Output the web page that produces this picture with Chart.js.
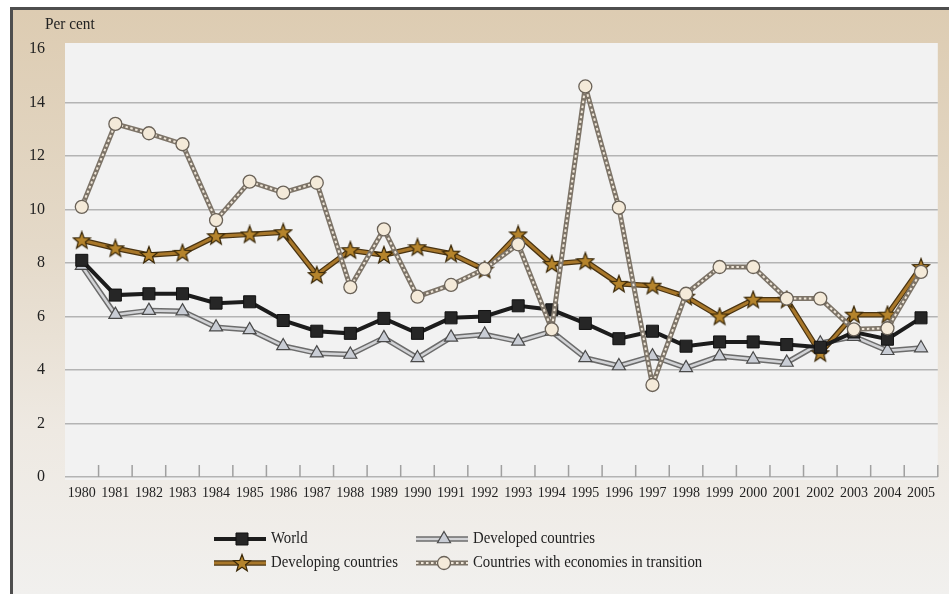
<!DOCTYPE html>
<html>
<head>
<meta charset="utf-8">
<script src="https://cdn.jsdelivr.net/npm/chart.js@4.4.1/dist/chart.umd.min.js"></script>
<style>
  html, body { margin: 0; padding: 0; background: #fff; }
  #frame {
    position: absolute; left: 10px; top: 7px; width: 939px; height: 587px;
    box-sizing: border-box;
    border-left: 3px solid #4e4e4e; border-top: 3px solid #4e4e4e;
    background: linear-gradient(to bottom, #ddccb2 0%, #e4d9c8 40%, #eee9e2 72%, #f1f0ee 100%);
  }
  #wrap { position: absolute; left: 0; top: 0; width: 949px; height: 594px; }
</style>
</head>
<body>
<div id="frame"></div>
<div id="wrap"><canvas id="myChart" width="949" height="594"></canvas></div>
<script>
const years = ["1980", "1981", "1982", "1983", "1984", "1985", "1986", "1987", "1988",
  "1989", "1990", "1991", "1992", "1993", "1994", "1995", "1996", "1997", "1998",
  "1999", "2000", "2001", "2002", "2003", "2004", "2005"];

const world = [8.1, 6.8, 6.85, 6.85, 6.5, 6.55, 5.85, 5.45, 5.37, 5.93, 5.37, 5.95, 6.0,
  6.4, 6.25, 5.74, 5.17, 5.45, 4.89, 5.05, 5.05, 4.95, 4.85, 5.42, 5.15, 5.95];
const developed = [7.9, 6.07, 6.22, 6.2, 5.6, 5.5, 4.9, 4.63, 4.58, 5.2, 4.45, 5.22, 5.33,
  5.07, 5.44, 4.45, 4.15, 4.52, 4.08, 4.52, 4.4, 4.28, 5.0, 5.25, 4.72, 4.82];
const developing = [8.85, 8.55, 8.3, 8.38, 9.0, 9.07, 9.15, 7.55, 8.48, 8.3, 8.59, 8.35, 7.75,
  9.07, 7.96, 8.07, 7.22, 7.15, 6.74, 6.0, 6.63, 6.63, 4.63, 6.07, 6.07, 7.85];
const transition = [10.1, 13.2, 12.85, 12.44, 9.6, 11.04, 10.63, 11.0, 7.1, 9.26, 6.74, 7.18, 7.78,
  8.7, 5.52, 14.6, 10.07, 3.44, 6.85, 7.85, 7.85, 6.67, 6.67, 5.52, 5.56, 7.67];

const yTicks = [0, 2, 4, 6, 8, 10, 12, 14, 16];

// filled five point star, chart.js "star" is only an asterisk
function makeStar() {
  const c = document.createElement("canvas");
  c.width = 20;
  c.height = 20;
  const g = c.getContext("2d");
  g.beginPath();
  for (let i = 0; i < 10; i++) {
    const r = i % 2 === 0 ? 9 : 3.8;
    const a = -Math.PI / 2 + (i * Math.PI) / 5;
    const px = 10 + r * Math.cos(a);
    const py = 10.5 + r * Math.sin(a);
    if (i === 0) g.moveTo(px, py);
    else g.lineTo(px, py);
  }
  g.closePath();
  g.fillStyle = "#b5842c";
  g.fill();
  g.lineWidth = 1.2;
  g.strokeStyle = "#3a2808";
  g.stroke();
  return c;
}
const star = makeStar();

const serif = "'Liberation Serif', 'Times New Roman', serif";
Chart.defaults.font.family = serif;
Chart.defaults.color = "#222";

// draws a wider darker line under the dataset line (double line look)
const outlinePlugin = {
  id: "outline",
  beforeDatasetDraw(chart, args) {
    const ds = chart.data.datasets[args.index];
    if (!ds.outlineColor) return;
    const ctx = chart.ctx;
    ctx.save();
    ctx.beginPath();
    args.meta.data.forEach((p, i) => (i ? ctx.lineTo(p.x, p.y) : ctx.moveTo(p.x, p.y)));
    ctx.strokeStyle = ds.outlineColor;
    ctx.lineWidth = ds.outlineWidth;
    ctx.lineJoin = "round";
    ctx.stroke();
    ctx.restore();
  },
};

const backPlugin = {
  id: "back",
  beforeDraw(chart) {
    const ctx = chart.ctx;
    const a = chart.chartArea;
    ctx.save();
    ctx.fillStyle = "#f2f2f2";
    ctx.fillRect(a.left, a.top - 6, a.right - a.left, a.bottom - a.top + 9);
    ctx.fillStyle = "#222";
    ctx.font = "17px " + serif;
    ctx.textBaseline = "middle";
    ctx.translate(45, 25);
    ctx.scale(0.9, 1);
    ctx.fillText("Per cent", 0, 0);
    ctx.restore();
  },
  beforeDatasetsDraw(chart) {
    // little tick marks between the years, pointing up from the base line
    const ctx = chart.ctx;
    const x = chart.scales.x;
    const half = (x.getPixelForValue(1) - x.getPixelForValue(0)) / 2;
    const base = chart.chartArea.bottom;
    ctx.save();
    ctx.strokeStyle = "#a0a0a0";
    ctx.lineWidth = 1.5;
    ctx.beginPath();
    for (let i = 0; i < years.length; i++) {
      const px = x.getPixelForValue(i) + half;
      ctx.moveTo(px, base);
      ctx.lineTo(px, base - 12);
    }
    ctx.stroke();
    ctx.restore();
  },
};

const legendItems = [
  { ds: 0, x: 214, y: 539 },
  { ds: 1, x: 416, y: 539 },
  { ds: 2, x: 214, y: 563 },
  { ds: 3, x: 416, y: 563 },
];

const legendPlugin = {
  id: "sideLegend",
  afterDraw(chart) {
    const ctx = chart.ctx;
    for (const item of legendItems) {
      const ds = chart.data.datasets[item.ds];
      ctx.save();
      ctx.lineCap = "butt";
      if (ds.outlineColor) {
        ctx.beginPath();
        ctx.moveTo(item.x, item.y);
        ctx.lineTo(item.x + 52, item.y);
        ctx.strokeStyle = ds.outlineColor;
        ctx.lineWidth = ds.outlineWidth;
        ctx.stroke();
      }
      ctx.beginPath();
      ctx.moveTo(item.x, item.y);
      ctx.lineTo(item.x + 52, item.y);
      ctx.strokeStyle = ds.borderColor;
      ctx.lineWidth = ds.borderWidth;
      ctx.setLineDash(ds.borderDash || []);
      ctx.stroke();
      ctx.setLineDash([]);
      ctx.fillStyle = ds.pointBackgroundColor;
      ctx.strokeStyle = ds.pointBorderColor;
      ctx.lineWidth = ds.pointBorderWidth;
      Chart.helpers.drawPoint(ctx, {
        pointStyle: ds.pointStyle,
        radius: ds.pointRadius,
        rotation: 0,
        borderWidth: ds.pointBorderWidth,
      }, item.x + 28, item.y);
      ctx.fillStyle = "#222";
      ctx.font = "17px " + serif;
      ctx.textBaseline = "middle";
      ctx.translate(item.x + 57, item.y);
      ctx.scale(0.87, 1);
      ctx.fillText(ds.label, 0, 0);
      ctx.restore();
    }
  },
};

new Chart(document.getElementById("myChart"), {
  type: "line",
  data: {
    labels: years,
    datasets: [
      {
        label: "World",
        data: world,
        borderColor: "#1c1c1c",
        borderWidth: 4,
        pointStyle: "rect",
        pointRadius: 8.5,
        pointBackgroundColor: "#262626",
        pointBorderColor: "#111",
        pointBorderWidth: 1,
        order: 1,
      },
      {
        label: "Developed countries",
        data: developed,
        borderColor: "#d2d3d6",
        borderWidth: 2.5,
        outlineColor: "#6c6c6c",
        outlineWidth: 5.5,
        pointStyle: "triangle",
        pointRadius: 7.5,
        pointBackgroundColor: "#c9cdd5",
        pointBorderColor: "#4a4a4a",
        pointBorderWidth: 1.2,
        order: 3,
      },
      {
        label: "Developing countries",
        data: developing,
        borderColor: "#a8772a",
        borderWidth: 3,
        outlineColor: "#4a3412",
        outlineWidth: 5.5,
        pointStyle: star,
        pointRadius: 10,
        pointBackgroundColor: "#b5842c",
        pointBorderColor: "#3a2808",
        pointBorderWidth: 1.2,
        order: 2,
      },
      {
        label: "Countries with economies in transition",
        data: transition,
        borderColor: "#efe6d8",
        borderWidth: 2,
        borderDash: [2.5, 2.5],
        outlineColor: "#7d7468",
        outlineWidth: 5,
        pointStyle: "circle",
        pointRadius: 6.5,
        pointBackgroundColor: "#f4ead9",
        pointBorderColor: "#6a6258",
        pointBorderWidth: 1.3,
        order: 0,
      },
    ],
  },
  options: {
    responsive: false,
    animation: false,
    devicePixelRatio: 1,
    layout: { padding: { top: 49, right: 11, left: 0, bottom: 0 } },
    scales: {
      x: {
        offset: true,
        grid: { display: false, drawTicks: false },
        border: { display: false },
        ticks: { padding: 8, font: { size: 14 }, maxRotation: 0, autoSkip: false },
        afterFit(scale) {
          scale.height = 117;
        },
      },
      y: {
        min: 0,
        max: 16,
        afterBuildTicks(scale) {
          scale.ticks = yTicks.map((v) => ({ value: v }));
        },
        grid: {
          drawTicks: false,
          lineWidth: 1.5,
          color: (c) => (c.tick && c.tick.value === 16 ? "rgba(0,0,0,0)" : "#b4b4b4"),
        },
        border: { display: false },
        ticks: { padding: 20, font: { size: 16 } },
        afterFit(scale) {
          scale.width = 65;
        },
      },
    },
    plugins: {
      legend: { display: false },
      tooltip: { enabled: false },
    },
  },
  plugins: [backPlugin, outlinePlugin, legendPlugin],
});
</script>
</body>
</html>
